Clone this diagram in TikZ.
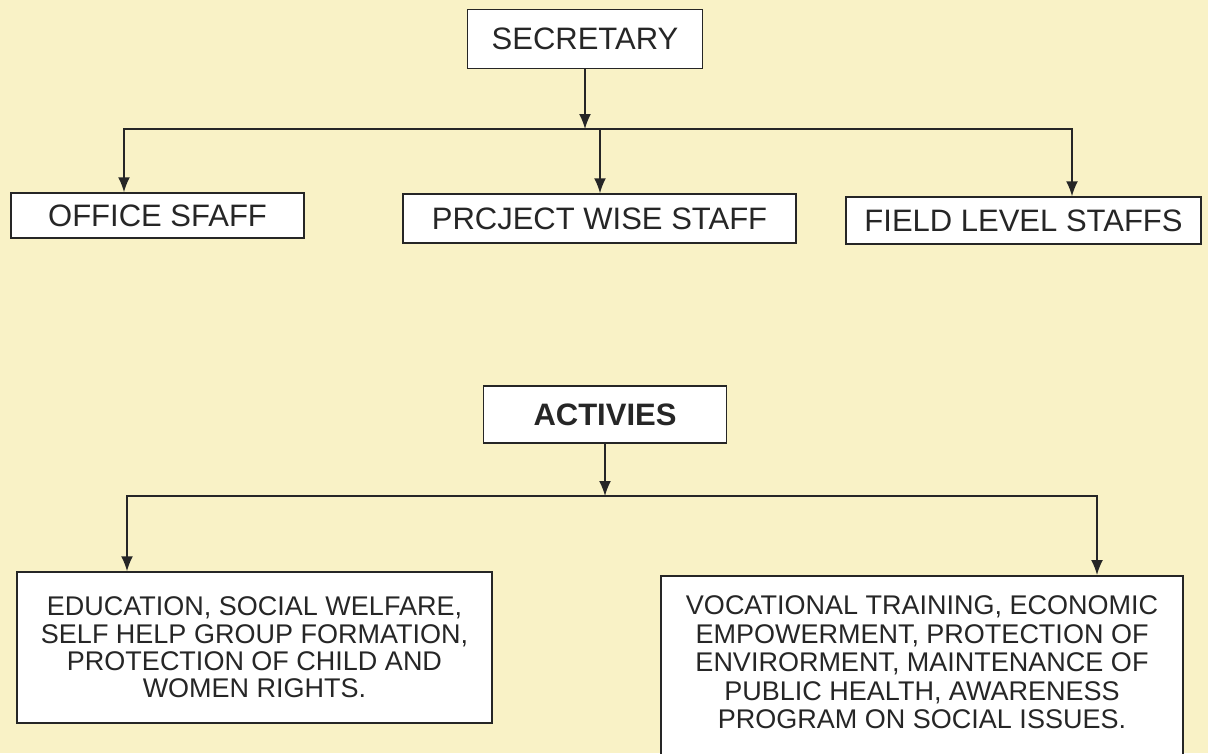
\documentclass[tikz,border=0pt]{standalone}
\usepackage{fontspec}
\setmainfont{Liberation Sans}
\usetikzlibrary{shapes,arrows.meta,calc}
\definecolor{paper}{HTML}{F9F2C6}
\definecolor{ink}{HTML}{262626}
\tikzstyle{line} = [draw=ink, line width=1.6pt, -{Latex[length=15pt,width=12pt]}]
\tikzstyle{wire} = [draw=ink, line width=1.6pt, line cap=rect]
\tikzstyle{block} = [draw=ink, fill=white, line width=1.5pt, text=ink, text centered, inner sep=0pt, font=\fontsize{31}{33}\selectfont]
\tikzstyle{textbox} = [draw=ink, fill=white, line width=1.5pt, text=ink, align=center, inner sep=0pt, font=\fontsize{27}{27.3}\selectfont]

\begin{document}
\begin{tikzpicture}[x=1pt, y=-1pt]
        \fill[paper] (0,0) rectangle (1208,753);
        \useasboundingbox (0,0) rectangle (1208,753);
        \node[block, minimum width=235pt, minimum height=59pt] (sec) at (585,39) {SECRETARY};
        \node[block, minimum width=293pt, minimum height=45pt] (office) at (157.5,215.5) {OFFICE SFAFF};
        \node[block, minimum width=393pt, minimum height=49pt] (project) at (599.5,218.5) {PRCJECT WISE STAFF};
        \node[block, minimum width=355pt, minimum height=47pt] (field) at (1023.5,220.5) {FIELD LEVEL STAFFS};
        \node[block, font=\bfseries\fontsize{31}{33}\selectfont, minimum width=243pt, minimum height=57pt] (act) at (605,414.5) {ACTIVIES};
        \node[textbox, minimum width=475pt, minimum height=151pt] (edu) at (254.5,647.5) {EDUCATION, SOCIAL WELFARE,\\ SELF HELP GROUP FORMATION,\\ PROTECTION OF CHILD AND\\ WOMEN RIGHTS.};
        \node[textbox, font=\fontsize{27}{28.5}\selectfont, anchor=north, minimum width=522pt, inner ysep=20pt] (voc) at (922,575) {VOCATIONAL TRAINING, ECONOMIC\\ EMPOWERMENT, PROTECTION OF\\ ENVIRORMENT, MAINTENANCE OF\\ PUBLIC HEALTH, AWARENESS\\ PROGRAM ON SOCIAL ISSUES.\rule[-16pt]{0pt}{1pt}};
        \coordinate (busL) at (124,129);
        \coordinate (busM) at (600,129);
        \coordinate (busR) at (1072,129);
        \coordinate (busL2) at (127,496);
        \coordinate (busR2) at (1097,496);
        \path[line] (sec.south) -- (sec.south |- busL);
        \path[wire] (busL) -- (busR);
        \path[line] (busL) -- (busL |- office.north);
        \path[line] (busM) -- (busM |- project.north);
        \path[line] (busR) -- (busR |- field.north);
        \path[line] (act.south) -- (act.south |- busL2);
        \path[wire] (busL2) -- (busR2);
        \path[line] (busL2) -- (busL2 |- edu.north);
        \path[line] (busR2) -- (busR2 |- voc.north);
    \end{tikzpicture}
\end{document}
